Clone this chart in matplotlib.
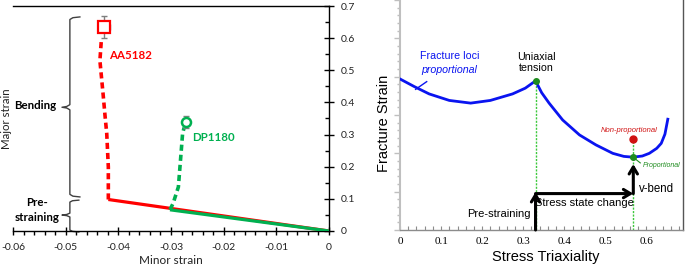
import matplotlib
matplotlib.use("Agg")
import matplotlib.pyplot as plt
from matplotlib.lines import Line2D
import numpy as np

# ---------------- data: left panel (strain paths) ----------------
aa_pre_x = [0.0, -0.0419]
aa_pre_y = [0.0, 0.098]
aa_bend_x = [-0.0419, -0.0419, -0.0422, -0.0425, -0.0429, -0.0435, -0.0432]
aa_bend_y = [0.098, 0.199, 0.303, 0.354, 0.427, 0.530, 0.600]
aa_frac = (-0.0427, 0.635)
aa_xerr = 0.0011
aa_yerr = 0.035

dp_pre_x = [0.0, -0.0302]
dp_pre_y = [0.0, 0.066]
dp_bend_x = [-0.0302, -0.0296, -0.0286, -0.0283, -0.0280, -0.0278, -0.0275]
dp_bend_y = [0.066, 0.086, 0.137, 0.199, 0.261, 0.303, 0.322]
dp_frac = (-0.0272, 0.339)
dp_yerr = 0.02

left_xticks = [-0.06, -0.05, -0.04, -0.03, -0.02, -0.01, 0.0]
left_xticklabels = ["-0.06", "-0.05", "-0.04", "-0.03", "-0.02", "-0.01", "0"]
left_yticks = [0.0, 0.1, 0.2, 0.3, 0.4, 0.5, 0.6, 0.7]
left_yticklabels = ["0", "0.1", "0.2", "0.3", "0.4", "0.5", "0.6", "0.7"]

# ---------------- data: right panel (fracture locus) ----------------
locus_x = [0.0, 0.035, 0.071, 0.12, 0.172, 0.22, 0.274, 0.305, 0.33,
           0.345, 0.363, 0.396, 0.437, 0.477, 0.518, 0.545, 0.567, 0.59,
           0.607, 0.625, 0.636, 0.645, 0.652]
locus_y = [0.394, 0.374, 0.355, 0.338, 0.331, 0.338, 0.355, 0.370, 0.389,
           0.358, 0.331, 0.287, 0.248, 0.222, 0.200, 0.192, 0.190, 0.193,
           0.200, 0.213, 0.226, 0.250, 0.289]
uniaxial = (0.33, 0.389)
vbend_prop = (0.568, 0.190)
vbend_nonprop = (0.568, 0.238)
path_level = 0.095
vbend_arrow_top = 0.172
right_xticks = [0, 0.1, 0.2, 0.3, 0.4, 0.5, 0.6]
right_xticklabels = ["0", "0.1", "0.2", "0.3", "0.4", "0.5", "0.6"]

RED = "#FF0000"
GREEN = "#00B050"
GREY = "#7F7F7F"

fig = plt.figure(figsize=(6.85, 2.68), dpi=100)

# ================= left panel =================
L = "Lato"
ax1 = fig.add_axes([13/685, 1-231/268, 316/685, 225/268])
ax1.set_xlim(-0.06, 0.0)
ax1.set_ylim(0, 0.7)

ax1.plot(aa_pre_x, aa_pre_y, color=RED, lw=2.3, solid_capstyle="butt", zorder=3)
ax1.plot(aa_bend_x, aa_bend_y, color=RED, lw=2.6, linestyle=(0, (1.7, 1.1)), zorder=3)
ax1.plot(dp_pre_x, dp_pre_y, color=GREEN, lw=2.3, solid_capstyle="butt", zorder=4)
ax1.plot(dp_bend_x, dp_bend_y, color=GREEN, lw=2.6, linestyle=(0, (1.7, 1.1)), zorder=4)

ax1.errorbar([aa_frac[0]], [aa_frac[1]], xerr=aa_xerr, yerr=aa_yerr, fmt="none",
             ecolor=GREY, elinewidth=1.0, capsize=2, capthick=1.0, zorder=5)
ax1.plot([aa_frac[0]], [aa_frac[1]], marker="s", ms=8.5, mfc="white", mec=RED,
         mew=1.6, zorder=6)
ax1.errorbar([dp_frac[0]], [dp_frac[1]], yerr=dp_yerr, fmt="none",
             ecolor=GREY, elinewidth=1.0, capsize=2, capthick=1.0, zorder=5)
ax1.plot([dp_frac[0]], [dp_frac[1]], marker="o", ms=6.5, mfc="white", mec=GREEN,
         mew=1.8, zorder=6)

ax1.text(-0.0417, 0.545, "AA5182", color=RED, fontsize=8.3, fontweight="bold",
         family=L, ha="left", va="center")
ax1.text(-0.0259, 0.290, "DP1180", color=GREEN, fontsize=8.3, fontweight="bold",
         family=L, ha="left", va="center")
ax1.text(-0.0557, 0.390, "Bending", color="black", fontsize=8.3, fontweight="bold",
         family=L, ha="center", va="center")
ax1.text(-0.0555, 0.066, "Pre-\nstraining", color="black", fontsize=8.3,
         fontweight="bold", family=L, ha="center", va="center", linespacing=1.5)


def brace(ax, x0, ytop, ybot, ymid, xhook, xnotch, h):
    xs = [xhook, x0 + (xhook - x0) * 0.3, x0, x0, x0 + (xnotch - x0) * 0.4, xnotch,
          x0 + (xnotch - x0) * 0.4, x0, x0, x0 + (xhook - x0) * 0.3, xhook]
    ys = [ytop, ytop - h * 0.3, ytop - h, ymid + h, ymid + h * 0.3, ymid,
          ymid - h * 0.3, ymid - h, ybot + h, ybot + h * 0.3, ybot]
    ax.add_line(Line2D(xs, ys, color="#404040", lw=1.0, clip_on=False))


brace(ax1, -0.0492, 0.666, 0.106, 0.385, -0.0473, -0.0507, 0.008)
brace(ax1, -0.0492, 0.096, -0.003, 0.0496, -0.0475, -0.0507, 0.006)

ax1.spines["left"].set_visible(False)
for s in ["top", "right", "bottom"]:
    ax1.spines[s].set_color("black")
    ax1.spines[s].set_linewidth(1.0)

ax1.yaxis.tick_right()
ax1.set_yticks(left_yticks)
ax1.set_yticklabels(left_yticklabels)
ax1.set_yticks(np.arange(0.05, 0.7, 0.1), minor=True)
ax1.tick_params(axis="y", which="major", direction="inout", length=7, width=1,
                pad=5, labelsize=7.5)
ax1.tick_params(axis="y", which="minor", direction="in", length=3, width=1)
ax1.set_xticks(left_xticks)
ax1.set_xticklabels(left_xticklabels)
ax1.set_xticks(np.arange(-0.058, 0.0, 0.002), minor=True)
ax1.tick_params(axis="x", which="major", direction="inout", length=6, width=1,
                pad=6, labelsize=7.5)
ax1.tick_params(axis="x", which="minor", direction="out", length=3, width=1)
for lab in ax1.get_xticklabels() + ax1.get_yticklabels():
    lab.set_family(L)
    lab.set_color("#222222")

ax1.yaxis.set_label_position("left")
ax1.set_ylabel("Major strain", family=L, fontsize=8.3, color="#222222")
ax1.yaxis.set_label_coords(-0.004, 0.5)
ax1.set_xlabel("Minor strain", family=L, fontsize=8.5, color="#222222")
ax1.xaxis.set_label_coords(0.5, -0.105)

# ================= right panel =================
A = "Liberation Sans"
ax2 = fig.add_axes([400/685, 1-230/268, 283/685, 230/268])
ax2.set_xlim(0, 0.689)
ax2.set_ylim(0, 0.6)

ax2.plot(locus_x, locus_y, color="#0A14F0", lw=2.0, zorder=3)
ax2.plot([0.065, 0.038], [0.387, 0.367], color="#0A14F0", lw=1.0)

ax2.plot([uniaxial[0], uniaxial[0]], [0, uniaxial[1]], color="#3CC83C",
         lw=1.0, linestyle=(0, (1.5, 1.0)), zorder=2)
ax2.plot([vbend_prop[0], vbend_prop[0]], [0, vbend_nonprop[1]], color="#3CC83C",
         lw=1.0, linestyle=(0, (1.5, 1.0)), zorder=2)
ax2.plot([uniaxial[0]], [uniaxial[1]], "o", ms=4, color="#1E8C1E", zorder=5)
ax2.plot([vbend_prop[0]], [vbend_prop[1]], "o", ms=4, color="#1E8C1E", zorder=5)
ax2.plot([vbend_nonprop[0]], [vbend_nonprop[1]], "o", ms=5, color="#D01010", zorder=5)
ax2.plot([0.571, 0.585], [0.187, 0.175], color="#1E8C1E", lw=0.8)

ap = dict(arrowstyle="->,head_length=0.5,head_width=0.3", lw=2.2, color="black",
          shrinkA=0, shrinkB=0)
ax2.annotate("", xy=(uniaxial[0], path_level + 0.004), xytext=(uniaxial[0], 0),
             arrowprops=ap, zorder=6)
ax2.annotate("", xy=(vbend_prop[0], path_level), xytext=(uniaxial[0], path_level),
             arrowprops=ap, zorder=6)
ax2.annotate("", xy=(vbend_prop[0], vbend_arrow_top), xytext=(vbend_prop[0], path_level),
             arrowprops=ap, zorder=6)

ax2.text(0.12, 0.453, "Fracture loci", color="#0A14F0", fontsize=7.7, family=A,
         ha="center", va="center")
ax2.text(0.12, 0.418, "proportional", color="#0A14F0", fontsize=7.7, family=A,
         style="italic", ha="center", va="center")
ax2.text(0.331, 0.437, "Uniaxial\ntension", color="black", fontsize=7.7, family=A,
         ha="center", va="center", linespacing=1.1)
ax2.text(0.559, 0.259, "Non-proportional", color="#D01010", fontsize=5.5, family=A,
         style="italic", ha="center", va="center")
ax2.text(0.637, 0.168, "Proportional", color="#1E8C1E", fontsize=5.0, family=A,
         style="italic", ha="center", va="center")
ax2.text(0.317, 0.042, "Pre-straining", color="black", fontsize=8, family=A,
         ha="right", va="center")
ax2.text(0.449, 0.070, "Stress state change", color="black", fontsize=8, family=A,
         ha="center", va="center")
ax2.text(0.581, 0.106, "v-bend", color="black", fontsize=8.3, family=A,
         ha="left", va="center")

ax2.spines["top"].set_visible(False)
ax2.spines["left"].set_color("#BFBFBF")
ax2.spines["left"].set_linewidth(1.5)
ax2.spines["bottom"].set_color("#8C8C8C")
ax2.spines["bottom"].set_linewidth(1.0)
ax2.spines["right"].set_color("#555555")
ax2.spines["right"].set_linewidth(1.0)

ax2.set_xticks(right_xticks)
ax2.set_xticklabels(right_xticklabels)
ax2.set_xticks(np.arange(0.02, 0.689, 0.02), minor=True)
ax2.tick_params(axis="x", which="both", direction="in", length=3, width=0.8,
                color="#8C8C8C", pad=5, labelsize=8)
for lab in ax2.get_xticklabels():
    lab.set_family("Liberation Serif")
ax2.set_yticks(np.arange(0, 0.61, 0.1))
ax2.set_yticks(np.arange(0.02, 0.6, 0.02), minor=True)
ax2.tick_params(axis="y", which="major", direction="out", length=4, width=1,
                color="#BFBFBF", labelleft=False)
ax2.tick_params(axis="y", which="minor", direction="out", length=2, width=1,
                color="#BFBFBF")

ax2.set_xlabel("Stress Triaxiality", family=A, fontsize=10.5)
ax2.xaxis.set_label_coords(0.516, -0.088)
ax2.set_ylabel("Fracture Strain", family=A, fontsize=10.5)
ax2.yaxis.set_label_coords(-0.032, 0.465)

fig.savefig("out.png", dpi=100)
